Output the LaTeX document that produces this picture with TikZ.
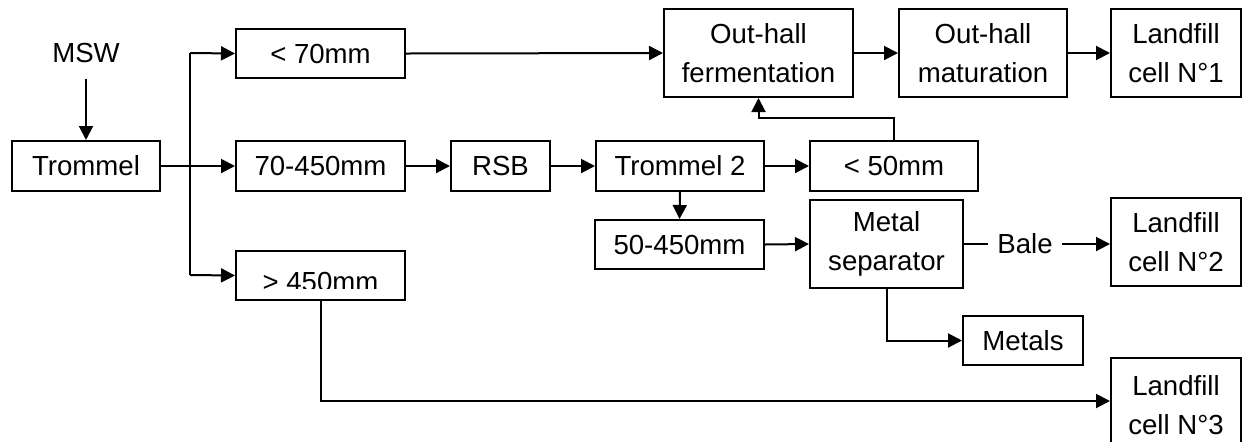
\documentclass[tikz,border=0pt]{standalone}
\usepackage{fontspec}
\setmainfont{Liberation Sans}
\usetikzlibrary{arrows.meta,calc}
\newcommand\flowbox[6]{\node[boxstyle, minimum width={(#4-#2)*0.5pt}, minimum height={(#5-#3)*0.5pt}] (#1) at ({(#2+#4)/2},{(#3+#5)/2}) {#6};}
\begin{document}
\begin{tikzpicture}[x=0.5pt,y=-0.5pt, line width=1pt,
  font=\fontsize{13.8}{19.8}\selectfont,
  boxstyle/.style={draw, inner sep=0pt, align=center},
  arr/.style={-{Triangle[length=7pt,width=7pt]}},
  lbl/.style={inner sep=4.4pt}]
\useasboundingbox (0,0) rectangle (1242,441);
\clip (0,0) rectangle (1242,441);

\node[lbl] (msw) at (86,53) {MSW};
\flowbox{trommel}{12}{141}{160}{191}{Trommel}
\flowbox{lt70}{236}{29}{405}{78}{< 70mm}
\flowbox{mid}{236}{141}{405}{191}{70-450mm}
\flowbox{gt450}{236}{251}{405}{300}{}
\begin{scope}
  \clip (236,251) rectangle (405,288.5);
  \node[lbl, anchor=base] (gt450txt) at (320.5,291) {> 450mm};
\end{scope}
\flowbox{ferm}{664}{9}{853}{97}{Out-hall\\fermentation}
\flowbox{mat}{899}{9}{1067}{97}{Out-hall\\maturation}
\flowbox{lf1}{1111}{9}{1241}{97}{Landfill\\cell N°1}
\flowbox{rsb}{451}{141}{550}{191}{RSB}
\flowbox{tr2}{596}{141}{764}{191}{Trommel 2}
\flowbox{lt50}{810}{141}{978}{191}{< 50mm}
\flowbox{m50}{595}{220}{764}{269}{50-450mm}
\flowbox{msep}{810}{200}{963}{288}{Metal\\separator}
\node[lbl] (bale) at (1025,244) {Bale};
\flowbox{lf2}{1111}{198}{1241}{286}{Landfill\\cell N°2}
\flowbox{metals}{963}{316}{1083}{365}{Metals}
\flowbox{lf3}{1111}{358}{1241}{452}{Landfill\\cell N°3}

\coordinate (sp1) at (190,53);
\coordinate (sp3) at (190,275);

\draw[arr, shorten <=3pt] (msw.south) -- (trommel.north);
\draw[arr] (trommel.east) -- (mid.west);
\draw (sp1) -- (sp3);
\draw[arr] (sp1) -- (lt70.west);
\draw[arr] (sp3) -- (gt450.west);
\draw[arr] (lt70.east) -- (ferm.west);
\draw[arr] (ferm.east) -- (mat.west);
\draw[arr] (mat.east) -- (lf1.west);
\draw[arr] (mid.east) -- (rsb.west);
\draw[arr] (rsb.east) -- (tr2.west);
\draw[arr] (tr2.east) -- (lt50.west);
\draw[arr] (lt50.north) -- ++(0,-22) -| (ferm.south);
\draw[arr] (tr2.south) -- (m50.north);
\draw[arr] (m50.east) -- (msep.west);
\draw (msep.east) -- (bale.west);
\draw[arr] (bale.east) -- (bale.east -| lf2.west);
\draw[arr] (msep.south) |- (metals.west);
\draw[arr] (gt450.south) |- ([yshift=2pt]lf3.west);
\end{tikzpicture}
\end{document}
